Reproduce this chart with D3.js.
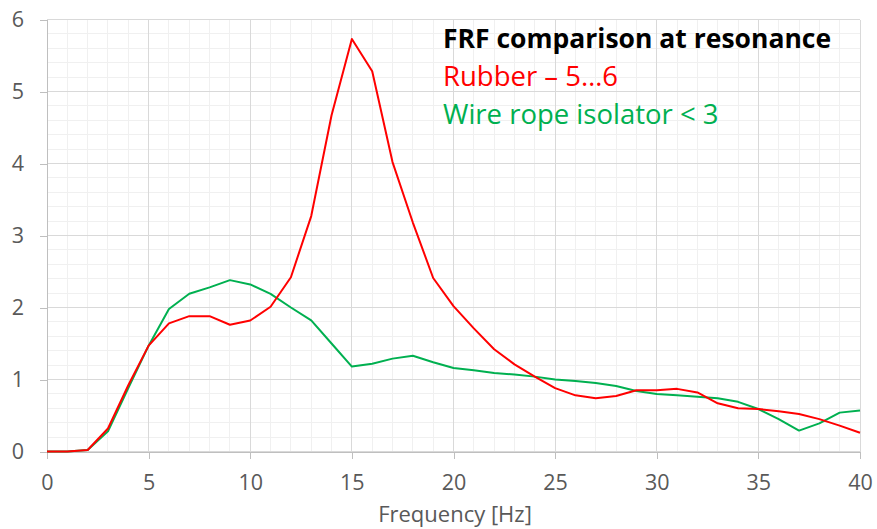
<!DOCTYPE html>
<html>
<head>
<meta charset="utf-8">
<script src="https://cdn.jsdelivr.net/npm/d3@7"></script>
<style>
  html, body { margin: 0; padding: 0; background: #fff; }
  svg { display: block; }
</style>
</head>
<body>
<svg id="chart" width="877" height="529"></svg>
<script>
const frequency = d3.range(0, 41);
const rubber = [0, 0, 0.02, 0.32, 0.92, 1.47, 1.78, 1.88, 1.88, 1.76, 1.82, 2.01, 2.42, 3.27, 4.67, 5.73, 5.28, 4.02, 3.18, 2.41, 2.02, 1.71, 1.42, 1.21, 1.04, 0.88, 0.78, 0.74, 0.77, 0.85, 0.85, 0.87, 0.82, 0.67, 0.60, 0.59, 0.56, 0.52, 0.45, 0.36, 0.26];
const wireRope = [0, 0, 0.02, 0.28, 0.88, 1.47, 1.98, 2.19, 2.28, 2.38, 2.32, 2.19, 2.00, 1.82, 1.50, 1.18, 1.22, 1.29, 1.33, 1.24, 1.16, 1.13, 1.09, 1.07, 1.04, 1.00, 0.98, 0.95, 0.91, 0.84, 0.80, 0.78, 0.76, 0.74, 0.69, 0.59, 0.45, 0.29, 0.39, 0.54, 0.57];
const xTicks = [0, 5, 10, 15, 20, 25, 30, 35, 40];
const yTicks = [0, 1, 2, 3, 4, 5, 6];
const xLabel = "Frequency [Hz]";
const titleText = "FRF comparison at resonance";
const legendTexts = ["Rubber \u2013 5\u20266", "Wire rope isolator < 3"];

const svg = d3.select("#chart");
const x = d3.scaleLinear().domain([0, 40]).range([47, 860]);
const y = d3.scaleLinear().domain([0, 6]).range([451.5, 19.5]);
const FONT = "'Open Sans', sans-serif";

// minor grid
const g = svg.append("g");
g.selectAll(".vminor").data(d3.range(0, 41, 1)).join("line")
  .attr("x1", d => x(d)).attr("x2", d => x(d))
  .attr("y1", y(0)).attr("y2", y(6))
  .attr("stroke", "#f0f0f0").attr("stroke-width", 1).attr("shape-rendering", "crispEdges");
g.selectAll(".hminor").data(d3.range(0, 31).map(i => i * 0.2)).join("line")
  .attr("x1", x(0)).attr("x2", x(40))
  .attr("y1", d => y(d)).attr("y2", d => y(d))
  .attr("stroke", "#f0f0f0").attr("stroke-width", 1).attr("shape-rendering", "crispEdges");
// major grid
g.selectAll(".vmajor").data(xTicks).join("line")
  .attr("x1", d => x(d)).attr("x2", d => x(d))
  .attr("y1", y(0)).attr("y2", y(6))
  .attr("stroke", "#d9d9d9").attr("stroke-width", 1).attr("shape-rendering", "crispEdges");
g.selectAll(".hmajor").data(yTicks).join("line")
  .attr("x1", x(0)).attr("x2", x(40))
  .attr("y1", d => y(d)).attr("y2", d => y(d))
  .attr("stroke", "#d9d9d9").attr("stroke-width", 1).attr("shape-rendering", "crispEdges");

// axes
const xAxis = svg.append("g").attr("transform", `translate(0,${y(0)})`)
  .call(d3.axisBottom(x).tickValues(xTicks).tickSize(7).tickPadding(16).tickFormat(d3.format("d")));
const yAxis = svg.append("g").attr("transform", `translate(${x(0)},0)`)
  .call(d3.axisLeft(y).tickValues(yTicks).tickSize(7).tickPadding(16).tickFormat(d3.format("d")));
[xAxis, yAxis].forEach(a => {
  a.select(".domain").attr("stroke", "#bfbfbf").attr("shape-rendering", "crispEdges");
  a.selectAll(".tick line").attr("stroke", "#bfbfbf").attr("shape-rendering", "crispEdges");
  a.selectAll(".tick text").attr("fill", "#595959").style("font-family", FONT).style("font-size", "21.5px");
});
xAxis.select(".domain").attr("d", `M${x(0)},0.5H${x(40)}`);
yAxis.select(".domain").attr("d", `M0.5,${y(0)}V${y(6)}`);

// lines
const line = d3.line().x((d, i) => x(frequency[i])).y(d => y(d));
svg.append("path").datum(wireRope).attr("d", line)
  .attr("fill", "none").attr("stroke", "#00b050").attr("stroke-width", 2).attr("stroke-linejoin", "round");
svg.append("path").datum(rubber).attr("d", line)
  .attr("fill", "none").attr("stroke", "#ff0000").attr("stroke-width", 2).attr("stroke-linejoin", "round");

// x label
svg.append("text").attr("x", 455).attr("y", 522).attr("text-anchor", "middle")
  .attr("fill", "#595959").style("font-family", FONT).style("font-size", "22px").text(xLabel);

// annotation
svg.append("text").attr("x", 443).attr("y", 48).attr("fill", "#000")
  .style("font-family", FONT).style("font-weight", "bold").style("font-size", "26.5px").text(titleText);
svg.append("text").attr("x", 443).attr("y", 86).attr("fill", "#ff0000")
  .style("font-family", FONT).style("font-size", "27.5px").text(legendTexts[0]);
svg.append("text").attr("x", 443).attr("y", 124).attr("fill", "#00b050")
  .style("font-family", FONT).style("font-size", "27.5px").text(legendTexts[1]);
</script>
</body>
</html>
